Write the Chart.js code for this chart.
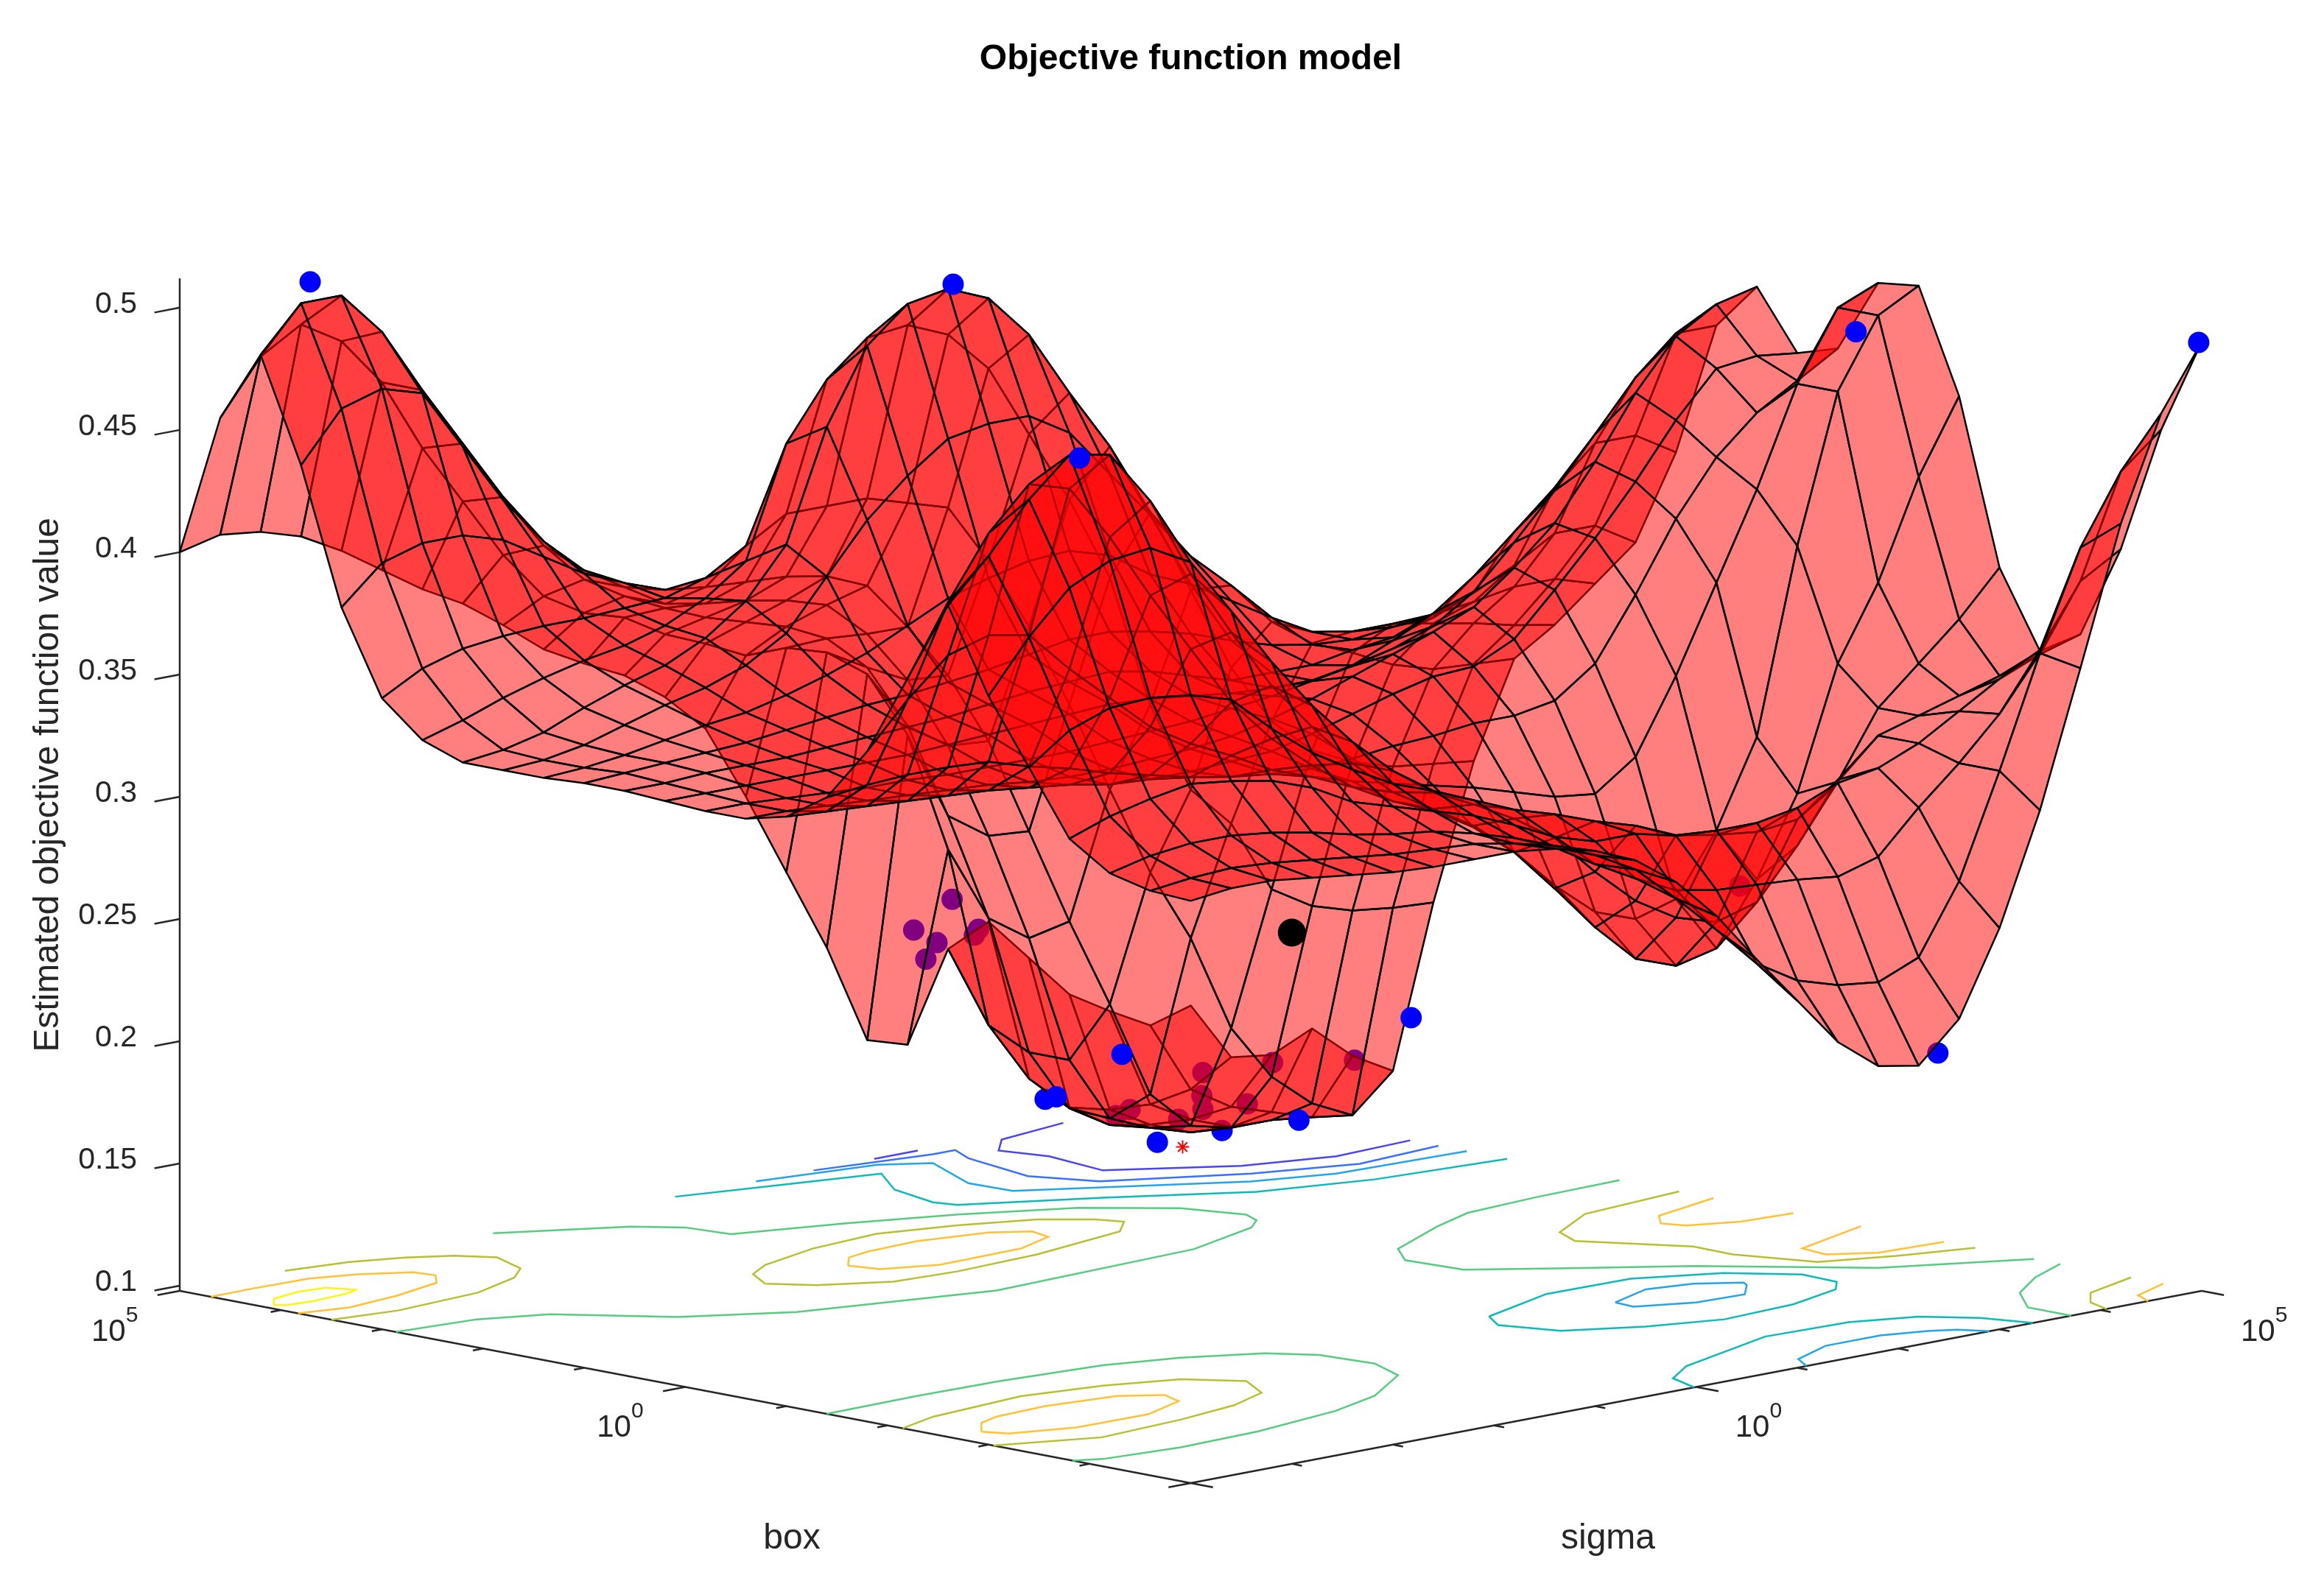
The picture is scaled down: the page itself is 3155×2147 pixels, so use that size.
<!DOCTYPE html>
<html>
<head>
<meta charset="utf-8">
<title>Objective function model</title>
<style>
  body { margin: 0; background: #fff; }
  canvas { display: block; }
</style>
</head>
<body>
<canvas id="my-chart" width="3155" height="2147"></canvas>
<script src="https://cdn.jsdelivr.net/npm/chart.js@4"></script>
<script>
'use strict';

// ************* Data *************************************
// box and sigma are log axes, grid positions are decades above 1e-5
let boxGrid = [0, 0.4, 0.8, 1.2, 1.6, 2, 2.4, 2.8, 3.2, 3.6, 4, 4.4, 4.8, 5.2, 5.6, 6, 6.4, 6.8, 7.2, 7.6, 8, 8.4, 8.8, 9.2, 9.6, 10];
let sigmaGrid = [0, 0.4, 0.8, 1.2, 1.6, 2, 2.4, 2.8, 3.2, 3.6, 4, 4.4, 4.8, 5.2, 5.6, 6, 6.4, 6.8, 7.2, 7.6, 8, 8.4, 8.8, 9.2, 9.6, 10];

// one row per box value, one column per sigma value
let objective = [
  [.336, .338, .338, .336, .334, .332, .331, .331, .331, .329, .325, .318, .306, .289, .268, .248, .228, .215, .212, .228, .262, .307, .362, .418, .46, .486],
  [.337, .339, .340, .339, .337, .335, .333, .332, .331, .328, .324, .317, .308, .293, .277, .26, .25, .245, .243, .25, .278, .32, .365, .405, .433, .447],
  [.341, .345, .347, .347, .345, .342, .338, .335, .333, .329, .324, .317, .307, .298, .29, .287, .286, .285, .283, .288, .305, .32, .337, .36, .385, .395],
  [.352, .358, .362, .365, .363, .36, .354, .345, .34, .335, .33, .323, .315, .31, .31, .306, .305, .305, .308, .315, .318, .325, .335, .345, .352, .357],
  [.378, .39, .396, .397, .395, .39, .375, .362, .352, .343, .337, .33, .323, .318, .312, .307, .30, .297, .295, .297, .31, .325, .33, .335, .34, .347],
  [.404, .425, .442, .45, .452, .443, .42, .396, .375, .357, .342, .33, .322, .313, .302, .285, .27, .26, .255, .26, .28, .303, .33, .345, .36, .378],
  [.438, .455, .475, .49, .487, .465, .432, .405, .38, .36, .342, .327, .317, .307, .293, .275, .256, .24, .234, .238, .263, .295, .345, .375, .415, .445],
  [.405, .433, .458, .475, .47, .447, .42, .395, .37, .352, .338, .326, .317, .31, .30, .287, .27, .256, .25, .255, .28, .315, .39, .45, .478, .487],
  [.372, .39, .405, .41, .407, .39, .375, .36, .35, .342, .333, .327, .322, .318, .314, .31, .305, .30, .298, .31, .34, .375, .41, .45, .478, .485],
  [.35, .352, .353, .353, .352, .347, .343, .338, .334, .33, .327, .325, .324, .325, .327, .328, .33, .33, .333, .345, .37, .398, .42, .435, .445, .455],
  [.339, .338, .337, .336, .335, .334, .332, .33, .327, .326, .326, .327, .328, .332, .337, .342, .346, .347, .355, .372, .39, .41, .432, .45, .452, .45],
  [.335, .335, .334, .333, .332, .331, .33, .328, .327, .327, .328, .329, .331, .335, .34, .346, .352, .358, .365, .378, .393, .415, .44, .46, .47, .474],
  [.335, .335, .334, .333, .332, .332, .331, .331, .331, .331, .332, .333, .334, .336, .338, .341, .344, .348, .354, .365, .382, .40, .42, .44, .455, .455],
  [.336, .336, .336, .336, .336, .336, .336, .337, .338, .339, .34, .341, .34, .338, .336, .335, .335, .338, .345, .353, .365, .38, .395, .41, .41, .40],
  [.337, .337, .338, .338, .338, .339, .34, .341, .342, .344, .346, .347, .348, .345, .34, .335, .335, .335, .338, .34, .345, .352, .36, .37, .37, .36],
  [.337, .338, .339, .34, .341, .343, .345, .347, .348, .35, .352, .355, .358, .358, .355, .351, .345, .34, .337, .336, .338, .34, .342, .345, .345, .34],
  [.336, .337, .339, .342, .345, .347, .351, .356, .362, .37, .378, .383, .387, .388, .383, .372, .365, .355, .345, .336, .333, .333, .33, .327, .323, .32],
  [.336, .337, .34, .345, .35, .354, .36, .37, .39, .41, .425, .437, .44, .44, .43, .41, .39, .37, .355, .337, .325, .318, .31, .305, .304, .303],
  [.336, .338, .342, .349, .355, .36, .368, .38, .40, .445, .475, .489, .492, .485, .467, .44, .415, .385, .35, .315, .29, .275, .267, .262, .26, .258],
  [.342, .347, .353, .358, .362, .365, .37, .378, .39, .435, .458, .472, .474, .467, .45, .42, .39, .355, .30, .262, .245, .215, .205, .20, .198, .197],
  [.356, .365, .37, .372, .373, .373, .374, .375, .38, .39, .40, .40, .40, .395, .39, .365, .335, .30, .262, .225, .195, .155, .132, .118, .11, .125],
  [.39, .405, .41, .41, .405, .395, .385, .378, .372, .37, .369, .368, .365, .358, .338, .315, .285, .245, .205, .168, .128, .112, .108, .108, .106, .128],
  [.445, .465, .47, .465, .44, .415, .395, .38, .37, .36, .357, .355, .352, .347, .332, .31, .28, .24, .195, .142, .115, .108, .103, .102, .105, .136],
  [.487, .505, .505, .487, .46, .435, .41, .387, .37, .36, .352, .345, .34, .335, .327, .312, .285, .245, .20, .142, .116, .106, .103, .102, .104, .122],
  [.458, .48, .49, .48, .46, .43, .405, .38, .36, .35, .345, .335, .328, .32, .32, .315, .303, .275, .225, .15, .125, .11, .106, .105, .108, .118],
  [.40, .404, .402, .397, .388, .377, .366, .357, .345, .332, .323, .315, .303, .287, .256, .222, .188, .147, .142, .178, .186, .168, .15, .14, .131, .136]
];

// evaluated points that sit in front of the surface
let frontBox = [9.2, 7.2, 4.4, 3.4, 0, 2.3, 7.8, 8.5, 9.2, 8.6, 8.2];
let frontSigma = [0.49, 4.85, 9.89, 9.98, 9.97, 1.2, 9.98, 7.82, 7.87, 8.27, 9.27];
let frontValue = [.513, .4935, .484, .4636, .486, .4896, .1485, .145, .1217, .1047, .109];

// evaluated points that show through the surface
let backBox = [9.3, 9, 8.5, 10, 10, 10, 10, 10, 10, 8.4, 8.7, 8.7, 8.8, 8.6, 8.6, 8.2, 9, 0, 1];
let backSigma = [7.86, 8.26, 8.81, 7.86, 7.26, 7.49, 7.38, 7.64, 7.9, 8.52, 8.81, 8.82, 8.68, 9.16, 9.41, 9.82, 8.4, 7.39, 6.43];
let backValue = [.12, .1125, .106, .1816, .1884, .1815, .1756, .198, .1837, .1328, .1187, .113, .1093, .1134, .1283, .1292, .1139, .2157, .2837];

// best point so far and model minimum
let bestPoint = [3, 4, .268];
let minimumPoint = [8.65, 8.57, .1];

// contour paths on the floor as [box, sigma], one list per level
let contour15 = [
  [[10, 8.74], [9.87, 8], [9.6, 7.7], [9.2, 7.8], [8.57, 7.7], [8, 8.5], [7.78, 9.22], [7.83, 10]],
  [[10, 6.87], [10, 7.3]]
];
let contour20 = [
  [[10, 6.27], [9.83, 7.28], [9.83, 7.5], [9.55, 7.35], [8.79, 7.18], [8.3, 7.4], [7.75, 8.35], [7.47, 9.14], [7.55, 10]]
];
let contour25 = [
  [[10, 5.7], [9.83, 6.73], [9.6, 7.05], [8.9, 6.7], [8.48, 6.72], [7.55, 8.14], [7.33, 8.77], [7.27, 10]],
  [[2.6, 6.8], [2.4, 6.78], [2.2, 7.2], [2.17, 7.65], [2.4, 7.9], [2.48, 7.95], [2.7, 7.67], [2.79, 7.29], [2.6, 6.8]],
  [[0, 6.09], [.22, 6.23], [.43, 6.71], [.43, 7.25], [.31, 7.6], [.2, 7.78], [0, 7.9]]
];
let contour30 = [
  [[10, 4.9], [9.75, 5.85], [9.58, 6.52], [9.1, 6.17], [8.58, 6.03], [8.39, 6.08], [7.86, 6.99], [7.25, 7.9], [6.99, 8.81], [6.87, 10]],
  [[2.86, 5.81], [2.59, 5.63], [2.13, 5.79], [1.82, 6.32], [1.62, 6.9], [1.67, 7.63], [1.85, 8.23], [2.04, 8.43], [2.4, 8.45], [2.83, 8.1], [3.14, 7.49], [3.16, 6.68], [2.86, 5.81]],
  [[0, 4.98], [.34, 5.11], [.59, 5.49], [.97, 6.65], [.93, 7.44], [.73, 7.93], [.39, 8.2], [0, 8.33]]
];
let contour35 = [
  [[7.86, 0], [7.79, .73], [7.56, 1.22], [6.86, 1.78], [6.4, 2.5], [5.97, 4.05], [6.07, 6.1], [6.35, 6.95], [6.51, 7.16], [6.71, 7.26], [7.2, 7.1], [7.72, 6.6], [8.14, 5.84], [8.47, 5.04], [8.75, 4.2], [9.15, 4.15], [9.44, 3.9], [9.95, 3.05]],
  [[3.6, 0], [3.62, .91], [3.6, 1.7], [3.5, 2.63], [3.31, 3.21], [3.01, 3.74], [2.7, 3.97], [2.2, 4.02], [1.78, 3.83], [1.36, 3.18], [1.16, 2.59], [1.01, 1.67], [.98, .88], [1.06, .19], [1.17, 0]],
  [[5.76, 10], [5.73, 9.16], [5.66, 8.4], [5.46, 7.9], [5.07, 7.12], [4.74, 6.86], [4.2, 6.9], [3.72, 7.46], [3.16, 8.13], [2.2, 9], [1.66, 10]],
  [[1.4, 10], [1.17, 9.52], [.85, 9.05], [.43, 8.71], [0, 8.71]]
];
let contour40 = [
  [[10, 1.04], [9.91, 1.59], [9.75, 1.98], [9.56, 2.27], [9.3, 2.44], [8.9, 2.27], [8.69, 2], [8.48, 1.43], [8.41, .57], [8.5, 0]],
  [[7.29, 3.08], [7.6, 3.27], [7.78, 3.57], [7.97, 4.23], [8.04, 4.93], [7.86, 5.55], [7.62, 6.1], [7.33, 6.39], [7.13, 6.47], [6.9, 6.2], [6.71, 5.19], [6.66, 4.35], [6.71, 3.77], [7, 3.3], [7.29, 3.08]],
  [[2.85, 0], [3, .45], [3.1, 1.42], [2.97, 2.1], [2.75, 2.65], [2.38, 2.93], [2, 2.7], [1.81, 2.24], [1.7, 1.6], [1.63, .75], [1.95, 0]],
  [[5.17, 10], [5.05, 8.95], [4.7, 8.35], [4.4, 8.2], [3.67, 8.64], [3.27, 8.63], [2.65, 8.85], [2.42, 9.4], [2.24, 10]],
  [[.7, 10], [.5, 9.4], [.25, 9.15], [0, 9.06]]
];
let contour45 = [
  [[9.69, 0], [9.7, .43], [9.68, .96], [9.55, 1.31], [9.33, 1.64], [9.14, 1.67], [8.94, 1.48], [8.8, .95], [8.73, .41], [8.83, 0]],
  [[7.35, 3.96], [7.56, 4.18], [7.62, 4.43], [7.65, 4.94], [7.52, 5.52], [7.33, 5.76], [7.11, 5.7], [6.94, 5.26], [6.92, 4.44], [7.1, 4.03], [7.35, 3.96]],
  [[2.37, .3], [2.6, .53], [2.69, .77], [2.72, 1.28], [2.63, 1.9], [2.42, 2.16], [2.19, 2.07], [2, 1.58], [2.01, .88], [2.19, .39], [2.37, .3]],
  [[4.83, 10], [4.64, 9.27], [4.43, 9.08], [4.25, 9.15], [4.08, 9.52], [4.04, 10]],
  [[3.37, 10], [3.08, 9.13], [2.81, 9.09], [2.59, 9.39], [2.55, 10]],
  [[.38, 10], [.2, 9.57], [0, 9.47]]
];
let contour50 = [
  [[9.33, .26], [9.17, .1], [9.1, .15], [9.07, .4], [9.11, .79], [9.16, .9], [9.36, .8], [9.39, .56], [9.33, .26]]
];
let contourLevels = [contour15, contour20, contour25, contour30, contour35, contour40, contour45, contour50];

// axes
let zTicks = [0.1, 0.15, 0.2, 0.25, 0.3, 0.35, 0.4, 0.45, 0.5];
let logTicks = [-5, -4, -3, -2, -1, 0, 1, 2, 3, 4, 5];
let majorTicks = [-5, 0, 5];
let labelledTicks = [0, 5];
let zFloor = 0.0979;
let zTop = 0.512;

// ************* Styles **************
let contourColors = ['#4a45f0', '#3a70ff', '#22a5ea', '#0cbab8', '#55cc80', '#b8c030', '#ffc233', '#f8f812'];
let axisColor = '#262626';
let fontName = '"Liberation Sans", Arial, sans-serif';

// ************* View **************
// Fixed 3D view. The x scale holds sigma minus box, the y scale holds z at the
// left corner, every step towards the back lifts a point by floorLift on it.
let floorLift = 0.00786;
let floorShift = -0.0786;

function project(box, sigma, z){
  return { x: sigma - box, y: z + floorShift + (box + sigma) * floorLift };
}

// ************* Datasets **************
let datasets = [];

function addLine(points, color, width, order){
  datasets.push({
    data: points,
    showLine: true,
    borderColor: color,
    borderWidth: width,
    pointRadius: 0,
    fill: false,
    clip: false,
    order: order
  });
}

function addPoints(boxes, sigmas, values, color, order){
  let pts = [];
  for(let i = 0; i < boxes.length; i++){
    pts.push(project(boxes[i], sigmas[i], values[i]));
  }
  datasets.push({
    data: pts,
    showLine: false,
    pointRadius: 14.5,
    pointBackgroundColor: color,
    pointBorderWidth: 0,
    clip: false,
    order: order
  });
}

// surface, cells nearest the viewer first because the first dataset is on top
function addSurface(){
  let cells = [];
  for(let i = 0; i < boxGrid.length - 1; i++){
    for(let j = 0; j < sigmaGrid.length - 1; j++){
      cells.push([i, j]);
    }
  }
  cells.sort((p, q) => (p[0] + p[1]) - (q[0] + q[1]));

  cells.forEach(function(cell){
    let i = cell[0];
    let j = cell[1];
    let corner = (r, c) => project(boxGrid[r], sigmaGrid[c], objective[r][c]);
    datasets.push({
      data: [corner(i, j), corner(i + 1, j), corner(i + 1, j + 1), corner(i, j + 1), corner(i, j)],
      showLine: true,
      borderColor: '#000',
      borderWidth: 2.5,
      borderJoinStyle: 'round',
      backgroundColor: 'rgba(255, 0, 0, 0.5)',
      fill: 'shape',
      pointRadius: 0,
      clip: false,
      order: 2
    });
  });
}

addPoints(frontBox, frontSigma, frontValue, '#0000ff', 0);
addPoints([bestPoint[0]], [bestPoint[1]], [bestPoint[2]], '#000', 0);
datasets[datasets.length - 1].pointRadius = 19;
addSurface();
addPoints(backBox, backSigma, backValue, '#0000ff', 3);
datasets.push({
  data: [project(minimumPoint[0], minimumPoint[1], minimumPoint[2])],
  showLine: false,
  pointStyle: 'star',
  pointRadius: 9,
  pointBorderColor: '#ff0000',
  pointBorderWidth: 2,
  clip: false,
  order: 3
});

// floor contours
contourLevels.forEach(function(level, n){
  level.forEach(function(path){
    addLine(path.map(p => project(p[0], p[1], zFloor)), contourColors[n], 2.5, 4);
  });
});

// the three drawn axes and their ticks
addLine([project(10, 0, zFloor), project(10, 0, zTop)], axisColor, 2.5, 5);
addLine([project(10, 0, zFloor), project(0, 0, zFloor)], axisColor, 2.5, 5);
addLine([project(0, 0, zFloor), project(0, 10, zFloor)], axisColor, 2.5, 5);

zTicks.forEach(function(z){
  addLine([project(10, 0, z), project(10, -0.25, z)], axisColor, 2.5, 5);
});

logTicks.forEach(function(t){
  let pos = t + 5;
  let len = majorTicks.includes(t) ? 0.22 : 0.1;
  addLine([project(pos, 0, zFloor), project(pos, -len, zFloor)], axisColor, 2.5, 5);
  addLine([project(0, pos, zFloor), project(-len, pos, zFloor)], axisColor, 2.5, 5);
});

// ************* Text on the floor axes **************
let floorLabels = {
  id: 'floorLabels',
  afterDraw(chart){
    let ctx = chart.ctx;
    let xs = chart.scales.x;
    let ys = chart.scales.y;

    function power(exp, anchor, dx, dy){
      let px = xs.getPixelForValue(anchor.x) + dx;
      let py = ys.getPixelForValue(anchor.y) + dy;
      ctx.font = '42px ' + fontName;
      ctx.fillText('10', px, py);
      let w = ctx.measureText('10').width;
      ctx.font = '30px ' + fontName;
      ctx.fillText(String(exp), px + w, py - 26);
    }

    ctx.save();
    ctx.fillStyle = axisColor;
    ctx.textAlign = 'left';
    ctx.textBaseline = 'alphabetic';
    labelledTicks.forEach(function(t){
      power(t, project(t + 5, 0, zFloor), -120, 68);
      power(t, project(0, t + 5, zFloor), 53, 68);
    });

    ctx.font = '48px ' + fontName;
    ctx.textAlign = 'center';
    ctx.fillText('box', 1075, 2103);
    ctx.fillText('sigma', 2183, 2103);
    ctx.restore();
  }
};

// ************* Chart **************
let canvasElem = document.getElementById('my-chart');

new Chart(canvasElem, {
  type: 'scatter',
  data: { datasets: datasets },
  plugins: [floorLabels],
  options: {
    responsive: false,
    animation: false,
    events: [],
    devicePixelRatio: 1,
    layout: { padding: { right: 166, bottom: 393 } },
    plugins: {
      legend: { display: false },
      tooltip: { enabled: false },
      title: {
        display: true,
        text: 'Objective function model',
        color: '#000',
        fullSize: false,
        font: { family: fontName, size: 48, weight: 'bold', lineHeight: 1.2 },
        padding: { top: 52, bottom: 268.4 }
      }
    },
    scales: {
      x: { display: false, min: -10, max: 10 },
      y: {
        min: 0.0976,
        max: zTop,
        afterFit(scale){ scale.width = 244; },
        afterBuildTicks(scale){ scale.ticks = zTicks.map(v => ({ value: v })); },
        grid: { display: false },
        border: { display: false },
        title: {
          display: true,
          text: 'Estimated objective function value',
          color: axisColor,
          font: { family: fontName, size: 48, lineHeight: 1.2 },
          padding: { top: 37, bottom: 0 }
        },
        ticks: {
          autoSkip: false,
          padding: 50,
          labelOffset: -4,
          color: axisColor,
          font: { family: fontName, size: 41 },
          callback: v => String(v)
        }
      }
    }
  }
});
</script>
</body>
</html>
